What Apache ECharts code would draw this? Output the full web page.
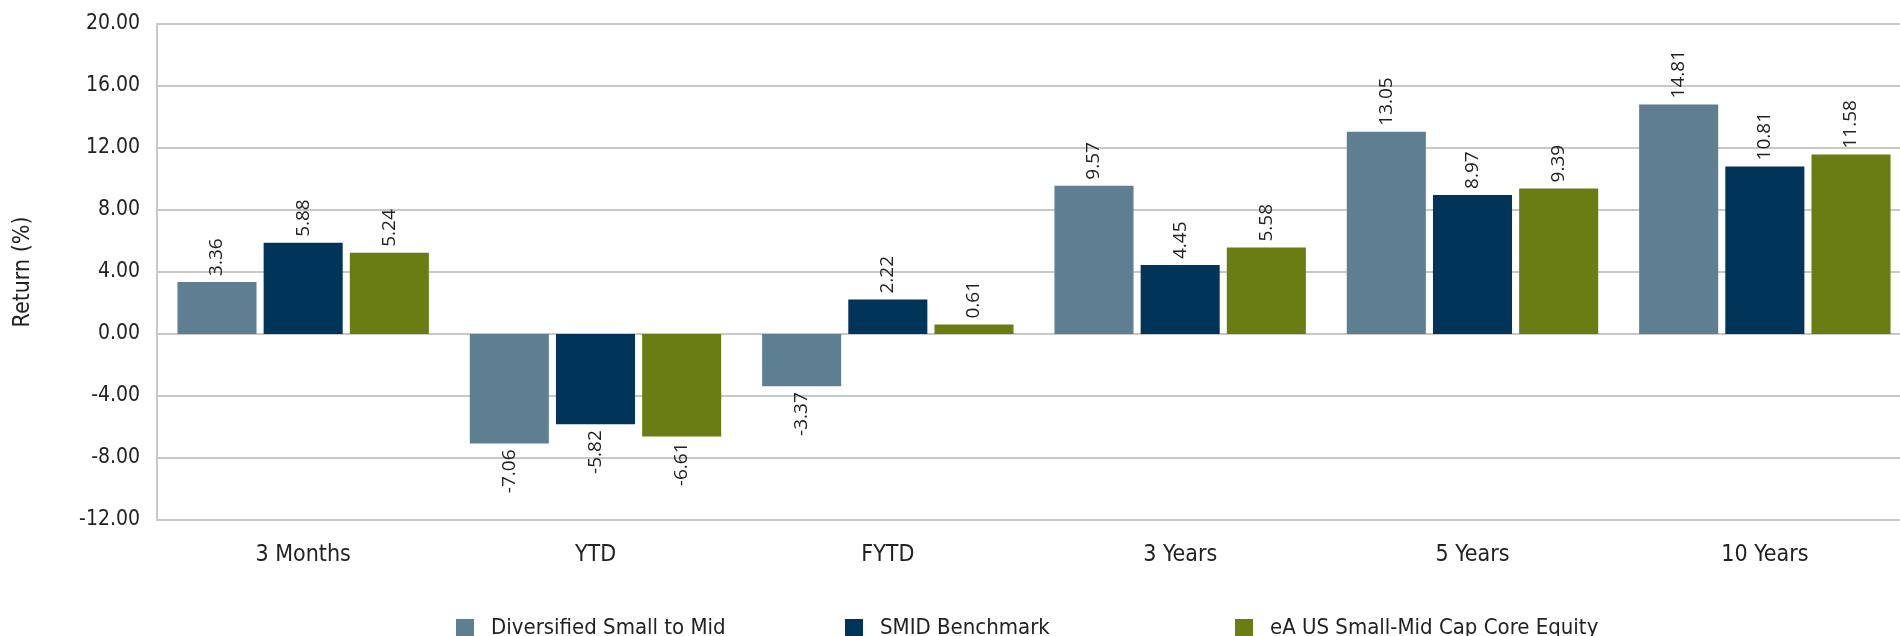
<!DOCTYPE html>
<html>
<head>
<meta charset="utf-8">
<script src="https://cdn.jsdelivr.net/npm/echarts@6/dist/echarts.min.js"></script>
<style>
html,body{margin:0;padding:0;background:#fff;overflow:hidden;}
#chart{width:1900px;height:636px;}
</style>
</head>
<body>
<div id="chart"></div>
<script>
const categories = ['3 Months', 'YTD', 'FYTD', '3 Years', '5 Years', '10 Years'];
const seriesNames = ['Diversified Small to Mid', 'SMID Benchmark', 'eA US Small-Mid Cap Core Equity'];
const diversified = [3.36, -7.06, -3.37, 9.57, 13.05, 14.81];
const benchmark = [5.88, -5.82, 2.22, 4.45, 8.97, 10.81];
const peerGroup = [5.24, -6.61, 0.61, 5.58, 9.39, 11.58];
const colors = ['#5e7f92', '#003459', '#6a7d12'];
const yMin = -12, yMax = 20, yInterval = 4;
const legendLefts = [451, 840, 1230];

const axisFont = "'DejaVu Sans Condensed', 'DejaVu Sans', sans-serif";
const labelFont = "'Open Sans', 'Noto Sans', sans-serif";

function makeSeries(name, values, color) {
  return {
    name: name,
    type: 'bar',
    barCategoryGap: '14%',
    barGap: '9%',
    itemStyle: { color: color },
    label: {
      show: true,
      position: 'outside',
      rotate: 90,
      distance: 6,
      verticalAlign: 'middle',
      fontFamily: labelFont,
      fontSize: 19,
      color: '#222',
      formatter: p => p.value.toFixed(2)
    },
    data: values.map(v => ({ value: v, label: { align: v >= 0 ? 'left' : 'right' } }))
  };
}

const chart = echarts.init(document.getElementById('chart'), null, { renderer: 'canvas' });
chart.setOption({
  animation: false,
  backgroundColor: '#fff',
  grid: { left: 157, right: -11, top: 24, bottom: 116, containLabel: false, outerBoundsMode: 'none' },
  legend: seriesNames.map((n, i) => ({
    data: [n],
    left: legendLefts[i],
    top: 612,
    icon: 'rect',
    itemWidth: 18,
    itemHeight: 18,
    textStyle: {
      fontFamily: axisFont,
      fontSize: 22,
      color: '#222',
      padding: [0, 0, 22, 12]
    }
  })),
  xAxis: {
    type: 'category',
    data: categories,
    axisLine: { onZero: false, lineStyle: { color: '#c8c8c8', width: 2 } },
    axisTick: { show: false },
    axisLabel: { margin: 24, fontFamily: axisFont, fontSize: 23, color: '#222' }
  },
  yAxis: {
    type: 'value',
    min: yMin,
    max: yMax,
    interval: yInterval,
    name: 'Return (%)',
    nameLocation: 'middle',
    nameGap: 122,
    nameTextStyle: { fontFamily: axisFont, fontSize: 23, color: '#222' },
    axisLine: { show: true, lineStyle: { color: '#c8c8c8', width: 2 } },
    axisTick: { show: false },
    splitLine: { lineStyle: { color: '#c8c8c8', width: 2 } },
    axisLabel: {
      margin: 17,
      fontFamily: axisFont,
      fontSize: 21,
      color: '#222',
      formatter: v => v.toFixed(2)
    }
  },
  series: [
    makeSeries(seriesNames[0], diversified, colors[0]),
    makeSeries(seriesNames[1], benchmark, colors[1]),
    makeSeries(seriesNames[2], peerGroup, colors[2])
  ]
});
</script>
</body>
</html>
